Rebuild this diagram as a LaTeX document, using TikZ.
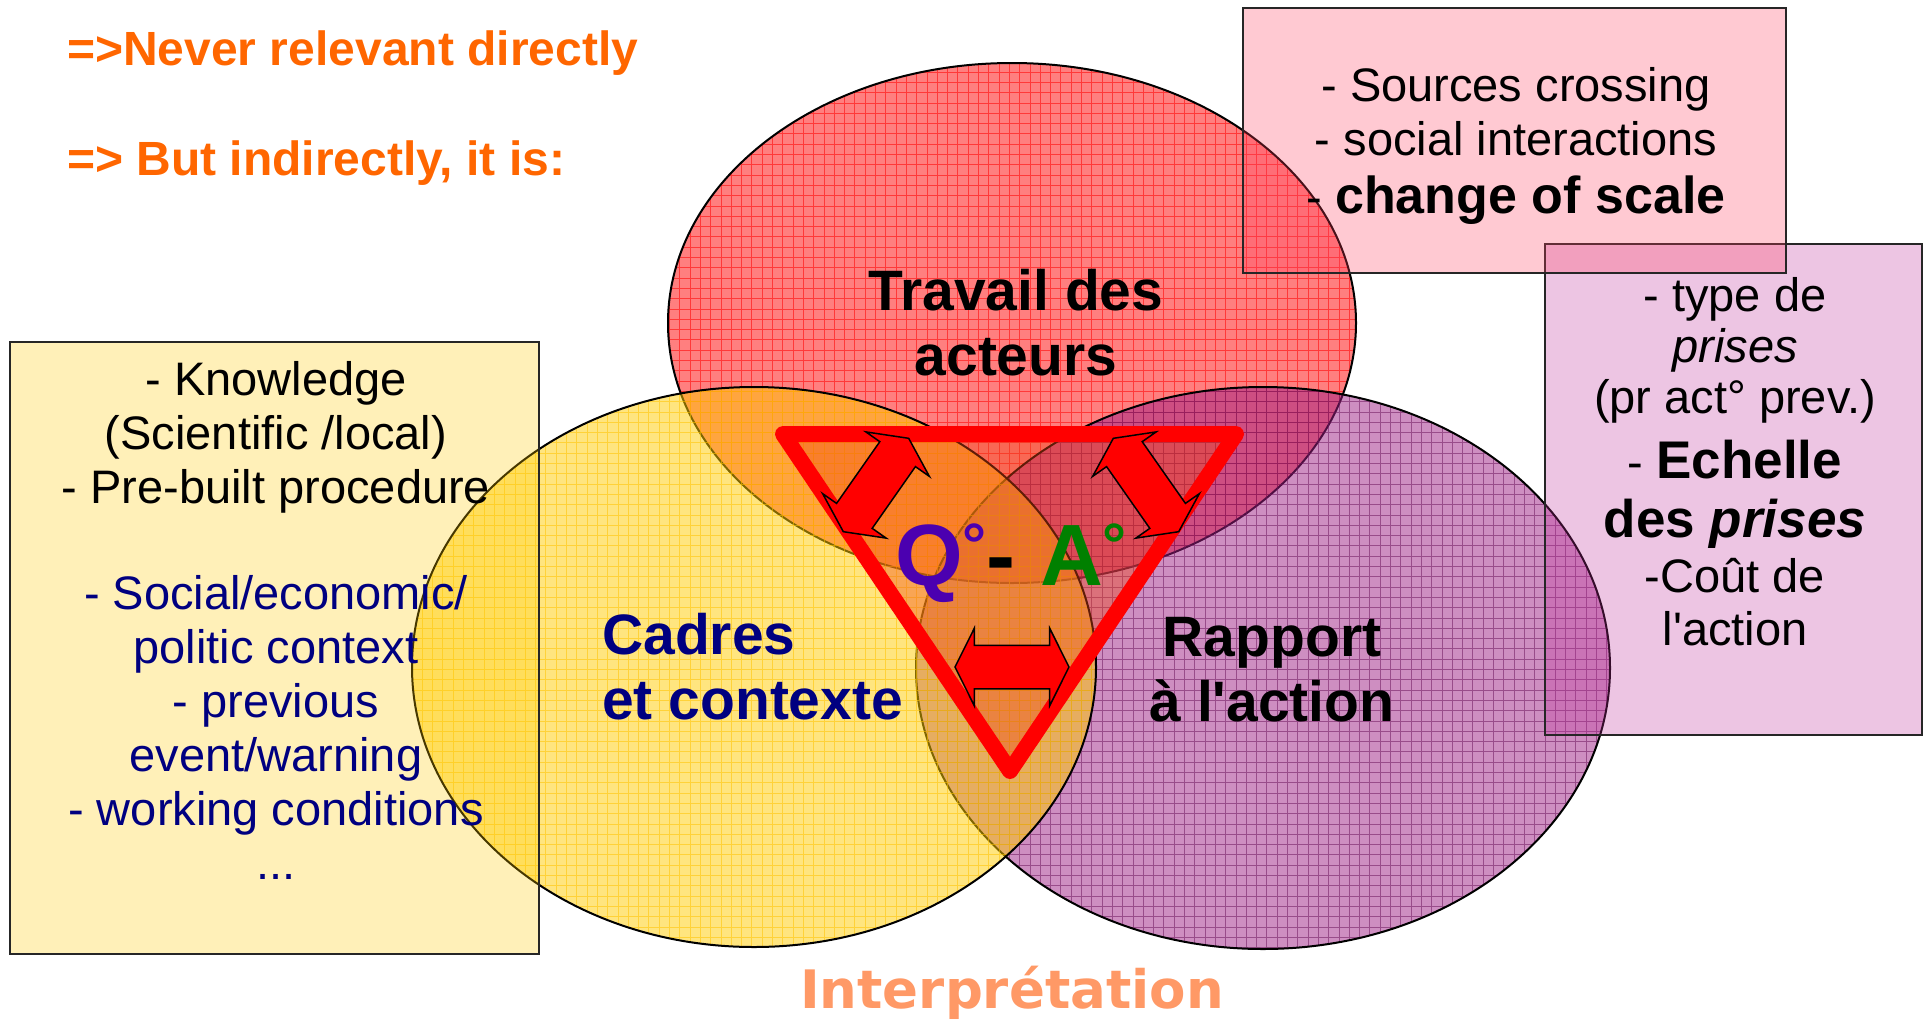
\documentclass[tikz,border=0pt]{standalone}
\usepackage{fontspec}
\setmainfont{Liberation Sans}
\newfontfamily\verdanafont{DejaVu Sans}
\usetikzlibrary{shapes.arrows}
\definecolor{headorange}{HTML}{FF6600}
\definecolor{interp}{HTML}{FF9966}
\definecolor{navy}{HTML}{000080}
\definecolor{qcol}{HTML}{4B00B0}
\definecolor{acol}{HTML}{008000}
\definecolor{vyellow}{HTML}{FFCC00}
\definecolor{vpurple}{HTML}{9E1F85}
\definecolor{vred}{HTML}{FF0000}
% centre, x radius, y radius, fill, grid colour
\newcommand{\venncircle}[5]{%
  \begin{scope}
    \clip #1 ellipse [x radius=#2, y radius=#3];
    \fill[#4, fill opacity=.5] #1 ellipse [x radius=#2, y radius=#3];
    \draw[#5, draw opacity=.55, line width=1pt, step=10.3pt] (0,1013) grid (1923,0);
  \end{scope}
  \draw[line width=2pt] #1 ellipse [x radius=#2, y radius=#3];
}
\newcommand{\degr}{\raisebox{20pt}{\fontsize{60}{60}\selectfont °}}
\tikzset{
  box/.style={draw=black!85, line width=2pt, inner sep=0pt, fill opacity=.28},
  boxtext/.style={inner sep=0pt, align=center, anchor=base, font=\fontsize{47}{54}\selectfont},
  headline/.style={inner sep=0pt, anchor=base west, text=headorange,
    font=\bfseries\fontsize{48}{56}\selectfont},
  venntext/.style={inner sep=0pt, font=\bfseries\fontsize{57}{65}\selectfont},
  qatri/.style={draw=vred, line width=16pt, line join=round,
    fill={rgb,255:red,240;green,70;blue,20}, fill opacity=.4},
  qarrow/.style={double arrow, draw=black, fill=vred, line width=1.5pt,
    inner sep=21pt, double arrow head extend=17pt, double arrow tip angle=127,
    minimum height=114pt}
}

\begin{document}
\begin{tikzpicture}[x=1pt, y=-1pt]
  \fill[white] (0,0) rectangle (1923,1013);

  % the three sets
  \venncircle{(1012,323)}{344}{260}{vred}{vred}
  \venncircle{(1263,668)}{347}{281}{vpurple}{vpurple!70!black}
  \venncircle{(754,667)}{342}{280}{vyellow}{vyellow!90!orange}

  % side boxes
  \node[box, fill=vyellow, minimum width=529, minimum height=612] (knowbox) at (274.5,648) {};
  \node[box, fill={rgb,255:red,192;green,48;blue,156}, minimum width=377, minimum height=491] (prisebox) at (1733.5,489.5) {};
  \node[box, fill={rgb,255:red,255;green,64;blue,96}, minimum width=543, minimum height=265] (crossbox) at (1514.5,140.5) {};

  % triangle and arrows
  \draw[qatri] (783,434) -- (1236,434) -- (1010,771) -- cycle;
  \node[qarrow, rotate=55] (arrL) at (876,485) {};
  \node[qarrow, rotate=-55] (arrR) at (1146,485) {};
  \node[qarrow] (arrB) at (1012,667) {};

  \node[headline] (never) at (67,65) {=>Never relevant directly};
  \node[headline] (indirect) at (67,175) {=> But indirectly, it is:};

  % base anchor = last line
  \node[venntext, align=center, anchor=base] (travail) at (1016,375) {Travail des\\acteurs};
  \node[venntext, align=left, anchor=base west, text=navy] (cadres) at (602,719) {Cadres\\et contexte};
  \node[venntext, align=center, anchor=base] (rapport) at (1272,721) {Rapport\\à l\textquotesingle action};

  \node[inner sep=0pt, anchor=base west, font=\bfseries\fontsize{87}{87}\selectfont] (qa) at (895,585)
    {\textcolor{qcol}{Q\degr}\textcolor{black}{-} \textcolor{acol}{A\degr}};

  \node[boxtext] (know) at (276,503) {- Knowledge\\(Scientific /local)\\- Pre-built procedure};
  \node[boxtext, text=navy] (ctx) at (276,879)
    {- Social/economic/\\politic context\\- previous\\event/warning\\- working conditions\\...};
  \node[boxtext] (cross) at (1516,213)
    {- Sources crossing\\- social interactions\\[4pt]- {\bfseries\fontsize{52}{56}\selectfont change of scale}};
  \node[boxtext, font=\fontsize{47}{51}\selectfont] (prises) at (1735,645)
    {- type de\\\textit{prises}\\(pr act° prev.)\\[14pt]- {\bfseries\fontsize{53}{57}\selectfont Echelle}\\[8pt]%
     {\bfseries\fontsize{53}{57}\selectfont des \textit{prises}}\\[4pt]-Coût de\\[2pt]l\textquotesingle action};

  \node[inner sep=0pt, anchor=base, text=interp, font={\verdanafont\bfseries\fontsize{53}{60}\selectfont}] (interpr) at (1012,1008) {Interprétation};
\end{tikzpicture}
\end{document}
